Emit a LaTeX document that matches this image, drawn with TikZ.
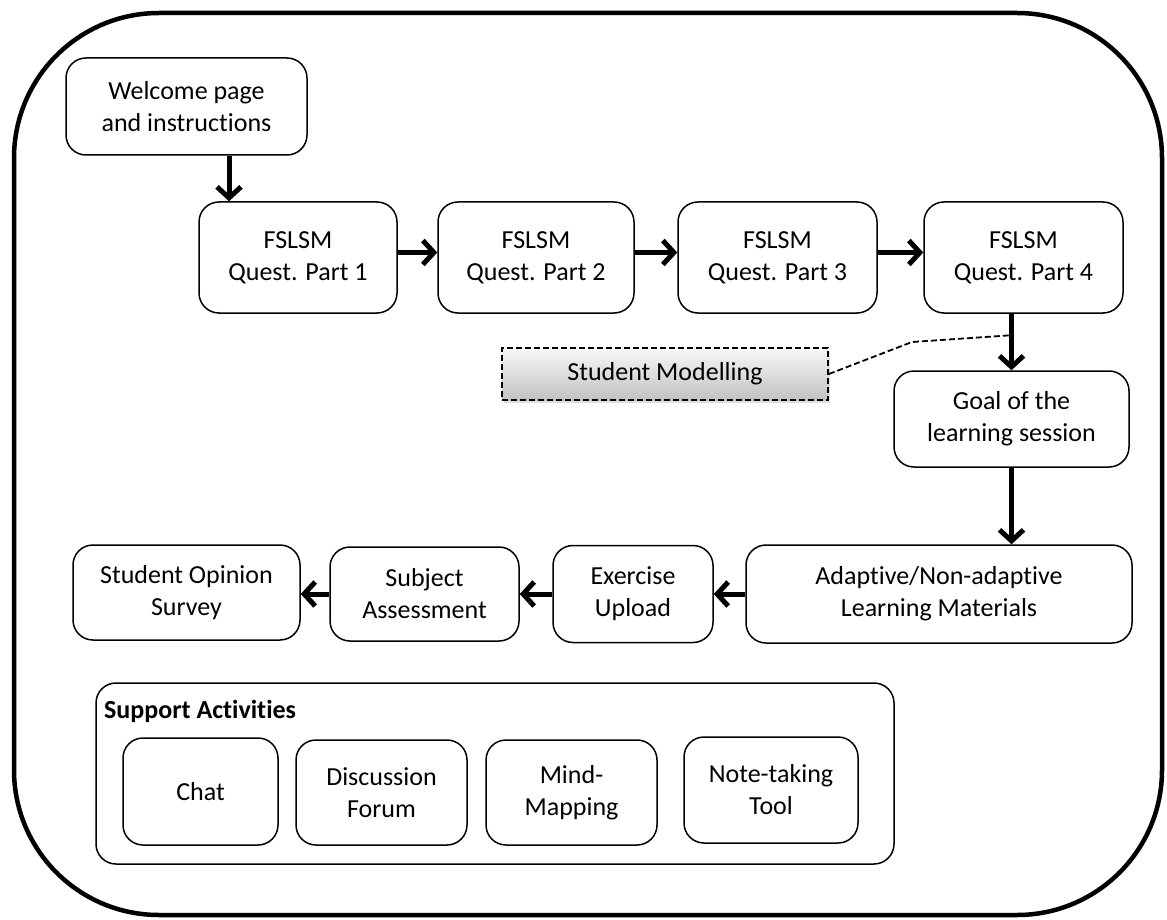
\documentclass[tikz,border=0pt]{standalone}
\usepackage{fontspec}
\setmainfont{Carlito}[Ligatures=NoCommon]
\usetikzlibrary{arrows.meta,shadows,calc}

\tikzset{
  stepbox/.style={draw, line width=1.5pt, rounded corners=20pt, align=center,
    inner sep=0pt, font=\fontsize{26}{32}\selectfont},
  modelbox/.style={draw, dash pattern=on 6pt off 3pt, line width=1.8pt, align=center,
    inner sep=0pt, top color=black!3, bottom color=black!24,
    drop shadow={shadow xshift=2pt, shadow yshift=-3pt, opacity=0.25},
    font=\fontsize{26}{32}\selectfont},
  flow/.style={line width=5pt, -{Straight Barb[length=11pt,width=24pt,line width=5pt]},
    line cap=butt},
  link/.style={dash pattern=on 6pt off 3pt, line width=1.8pt},
}

\begin{document}
\begin{tikzpicture}[x=1pt, y=-1pt]
\useasboundingbox (0,0) rectangle (1167,920);

% outer frame
\draw[line width=4.5pt, rounded corners=145pt] (14,13) rectangle (1162,915);

% questionnaire stage
\node[stepbox, minimum width=241pt, minimum height=97pt] (welcome) at (186.5,106.5)
  {Welcome page\\and instructions};
\node[stepbox, minimum width=198pt, minimum height=111pt] (q1) at (298,257.5)
  {FSLSM\\Quest. Part 1};
\node[stepbox, minimum width=196pt, minimum height=111pt] (q2) at (536,257.5)
  {FSLSM\\Quest. Part 2};
\node[stepbox, minimum width=199pt, minimum height=111pt] (q3) at (777.5,257.5)
  {FSLSM\\Quest. Part 3};
\node[stepbox, minimum width=199pt, minimum height=111pt] (q4) at (1023.5,257.5)
  {FSLSM\\Quest. Part 4};

% student model
\node[modelbox, minimum width=326pt, minimum height=52pt] (sm) at (665,374)
  {Student Modelling};

% learning stage
\node[stepbox, minimum width=235pt, minimum height=96pt] (goal) at (1011.5,419)
  {Goal of the\\learning session};
\node[stepbox, minimum width=386pt, minimum height=98pt] (adapt) at (939,594)
  {Adaptive/Non-adaptive\\Learning Materials};
\node[stepbox, minimum width=160pt, minimum height=97pt] (exer) at (633,594)
  {Exercise\\Upload};
\node[stepbox, minimum width=189pt, minimum height=94pt] (subj) at (424.5,594)
  {Subject\\Assessment};
\node[stepbox, minimum width=227pt, minimum height=95pt] (survey) at (186.5,592.5)
  {Student Opinion\\Survey};

% support activities
\node[stepbox, minimum width=798pt, minimum height=181pt] (support) at (495,773.5) {};
\node[anchor=base west, inner sep=0pt, font=\fontsize{26}{32}\selectfont\bfseries]
  (suplabel) at (104,718) {Support Activities};
\node[stepbox, minimum width=155pt, minimum height=107pt] (chat) at (200.5,791.5) {Chat};
\node[stepbox, minimum width=171pt, minimum height=105pt] (disc) at (381.5,792.5)
  {Discussion\\Forum};
\node[stepbox, minimum width=171pt, minimum height=105pt] (mind) at (571.5,792.5)
  {Mind-\\Mapping};
\node[stepbox, minimum width=174pt, minimum height=106pt] (note) at (771,790)
  {Note-taking\\Tool};

% flow arrows
\draw[flow] ([xshift=42.5pt]welcome.south) -- ([xshift=-69pt]q1.north);
\draw[flow] ([yshift=5pt]q1.east) -- ([yshift=5pt]q2.west);
\draw[flow] ([yshift=5pt]q2.east) -- ([yshift=5pt]q3.west);
\draw[flow] ([yshift=5pt]q3.east) -- ([yshift=5pt]q4.west);
\draw[flow] (q4.south -| goal.north) -- (goal.north);
\draw[flow] (goal.south) -- (goal.south |- adapt.north);
\draw[flow] (adapt.west) -- (exer.east);
\draw[flow] (exer.west) -- (subj.east);
\draw[flow] (subj.west) -- (subj.west -| survey.east);

% link from the student model to the flow
\coordinate (bend) at (912,342);
\coordinate (tap) at ($(q4.south -| goal.north)!0.38!(goal.north)$);
\draw[link] (sm.east) -- (bend) -- (tap);
\end{tikzpicture}
\end{document}
